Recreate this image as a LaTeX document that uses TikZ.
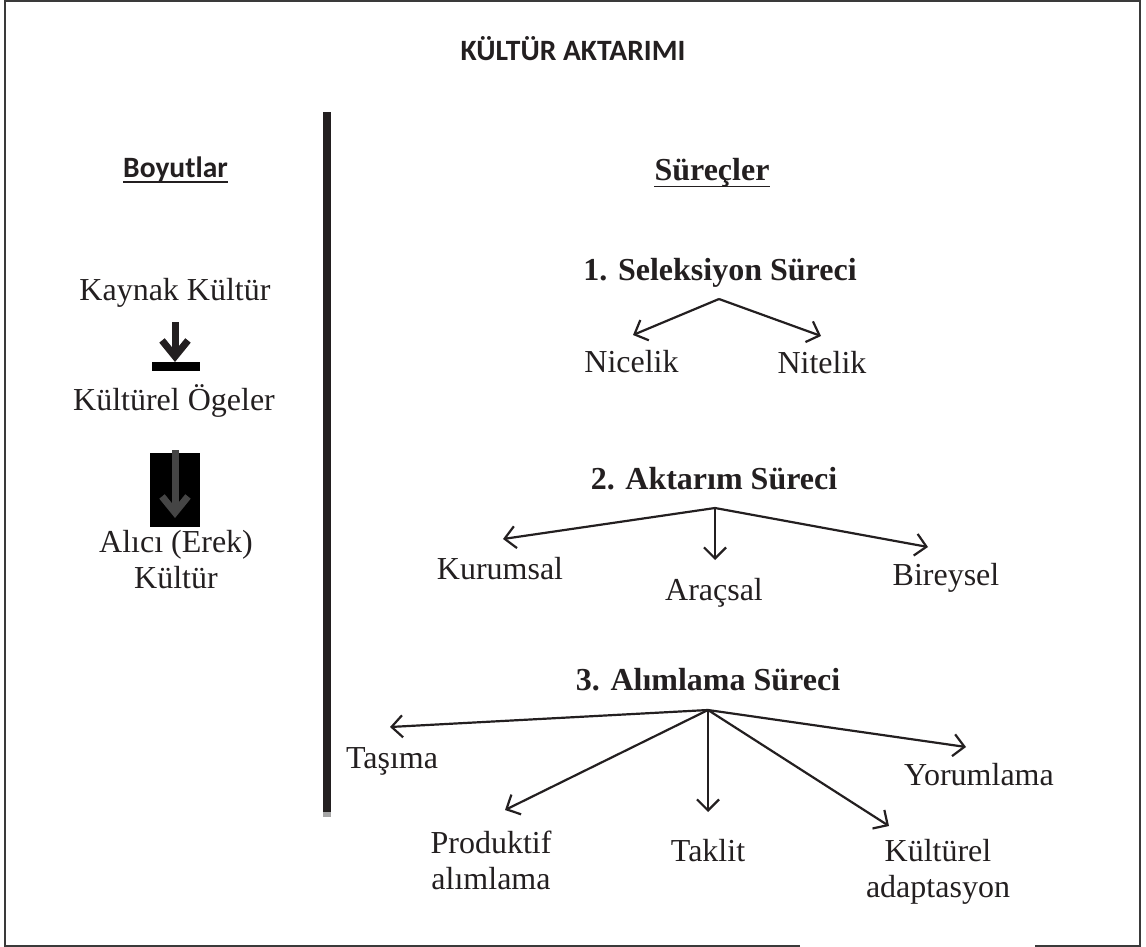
\documentclass[tikz,border=0pt]{standalone}
\usepackage{fontspec}
\setmainfont{Liberation Serif}
\newfontfamily\calib{Carlito}
\usetikzlibrary{arrows.meta,calc}
\definecolor{ink}{HTML}{231F20}
\definecolor{framec}{HTML}{3A3A3A}
\definecolor{grayarrow}{HTML}{454545}
\begin{document}
\begin{tikzpicture}[x=1pt,y=-1pt,
  txt/.style={inner sep=0pt, anchor=base, text=ink, font=\fontsize{32}{36}\selectfont, align=center},
  hdr/.style={inner sep=0pt, anchor=base, text=ink, font=\fontsize{32}{36}\selectfont\bfseries},
  sans/.style={inner sep=0pt, anchor=base, text=ink, font=\calib\bfseries\fontsize{29.5}{34}\selectfont},
  conn/.style={draw=ink, line width=2.2pt, -{Straight Barb[length=11pt,width=22pt]}},
  bigarrow/.style={line width=7pt, -{Straight Barb[length=16pt,width=26pt]}},
  uline/.style={draw=ink, line width=1.8pt}
  ]
\useasboundingbox (0,0) rectangle (1146,947);
% frame with gap at bottom
\draw[framec, line width=2pt] (800,946) -- (5,946) -- (5,1) -- (1140,1) -- (1140,946) -- (1035,946);

% title
\node[sans] (title) at (573,61) {KÜLTÜR AKTARIMI};

% divider bar
\fill[ink] (322.7,111.7) rectangle (330.7,811.7);
\fill[gray!70] (322.7,811.7) rectangle (330.7,817);

% left column
\node[sans] (boy) at (175.5,177) {Boyutlar};
\draw[uline] ($(boy.base west)+(0,5)$) -- ($(boy.base east)+(0,5)$);
\node[txt] (kaynak) at (175,300.7) {Kaynak Kültür};
\node[txt] (ogeler) at (174,410) {Kültürel Ögeler};
\node[txt] (alici) at (176,588) {Alıcı (Erek)\\Kültür};

\fill[black] (152,362) rectangle (200,371);
\fill[black] (150,453) rectangle (200,527);
\coordinate (l1s) at (175,322);
\coordinate (l1e) at (175,362);
\coordinate (l2s) at (175,450);
\coordinate (l2e) at (175,518);
\draw[bigarrow, ink] (l1s) -- (l1e);
\draw[bigarrow, grayarrow] (l2s) -- (l2e);

% right column
\node[hdr] (surec) at (712,181) {Süreçler};
\draw[uline] ($(surec.base west)+(0,5.5)$) -- ($(surec.base east)+(0,5.5)$);

% 1. selection
\node[hdr] (s1) at (720,280) {1. Seleksiyon Süreci};
\coordinate (a1) at (719,299);
\coordinate (t11) at (633,335);
\coordinate (t12) at (821,336);
\draw[conn] (a1) -- (t11);
\draw[conn] (a1) -- (t12);
\node[txt] (nicelik) at (631.5,372.7) {Nicelik};
\node[txt] (nitelik) at (822,373) {Nitelik};

% 2. transfer
\node[hdr] (s2) at (714,489) {2. Aktarım Süreci};
\coordinate (a2) at (715,508);
\coordinate (t21) at (503,539);
\coordinate (t22) at (715,560);
\coordinate (t23) at (928,547);
\draw[conn] (a2) -- (t21);
\draw[conn] (a2) -- (t22);
\draw[conn] (a2) -- (t23);
\node[txt] (kurumsal) at (500,579) {Kurumsal};
\node[txt] (aracsal) at (714,600) {Araçsal};
\node[txt] (bireysel) at (946,585) {Bireysel};

% 3. reception
\node[hdr] (s3) at (708,690) {3. Alımlama Süreci};
\coordinate (a3) at (708,710);
\coordinate (t31) at (390,727);
\coordinate (t32) at (505,810);
\coordinate (t33) at (708,812);
\coordinate (t34) at (889,826);
\coordinate (t35) at (966,747);
\draw[conn] (a3) -- (t31);
\draw[conn] (a3) -- (t32);
\draw[conn] (a3) -- (t33);
\draw[conn] (a3) -- (t34);
\draw[conn] (a3) -- (t35);
\node[txt] (tasima) at (392,768) {Taşıma};
\node[txt] (yorum) at (979,785) {Yorumlama};
\node[txt] (produktif) at (491,889) {Produktif\\alımlama};
\node[txt] (taklit) at (708,861) {Taklit};
\node[txt] (adapt) at (938,897) {Kültürel\\adaptasyon};
\end{tikzpicture}
\end{document}
